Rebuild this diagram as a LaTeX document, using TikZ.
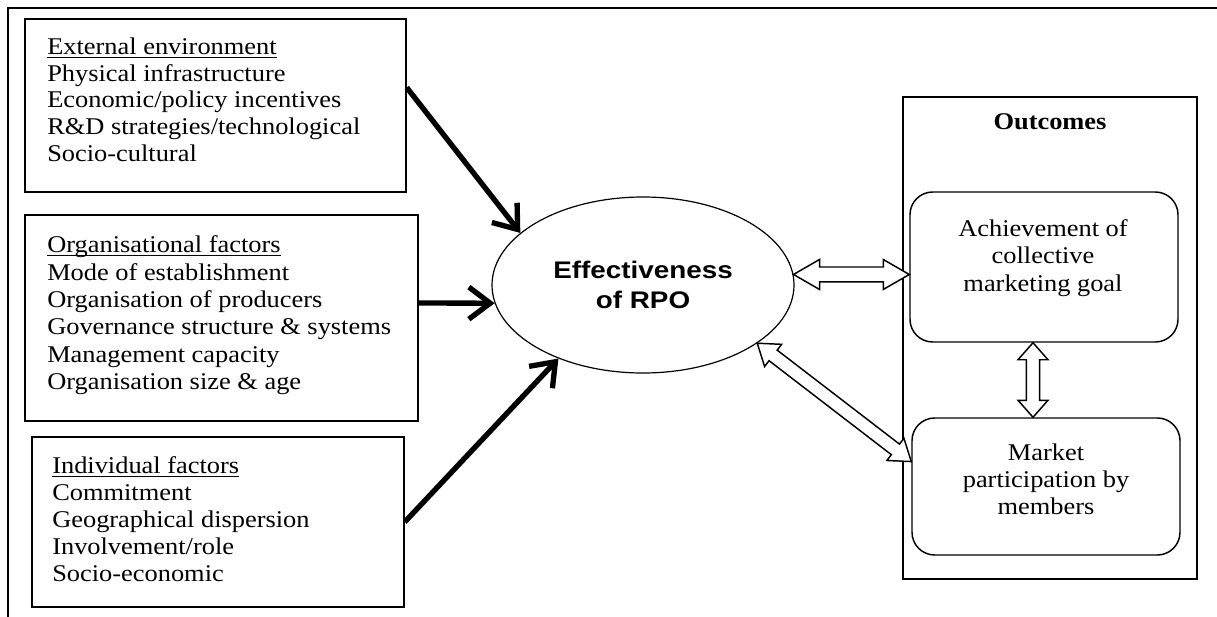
\documentclass[tikz,border=0pt]{standalone}
\usepackage{fontspec}
\setmainfont{Liberation Serif}[FakeStretch=1.1]
\newfontfamily\sansb{Liberation Sans}[FakeStretch=1.16]
\usetikzlibrary{arrows.meta,calc,fit,shapes.geometric}
\newcommand\ulword[1]{\setbox0\hbox{#1}\rlap{\rule[-2.4pt]{\wd0}{0.9pt}}#1}
\newcommand\dblarr[5]{%
  \draw[outl] let \p1=(#1), \p2=(#2), \n1={atan2(\y2-\y1,\x2-\x1)}, \n2={veclen(\x2-\x1,\y2-\y1)} in
  [shift={(\p1)}, rotate=\n1]
  (0pt,0pt) -- (#3,#4) -- (#3,#5) -- ({\n2*1pt-#3},#5) -- ({\n2*1pt-#3},#4) -- ({\n2*1pt},0pt)
  -- ({\n2*1pt-#3},-#4) -- ({\n2*1pt-#3},-#5) -- (#3,-#5) -- (#3,-#4) -- cycle;}
\tikzset{
  frameline/.style={line width=1.1pt},
  box/.style={draw, line width=1.1pt, inner sep=0pt},
  rbox/.style={draw, line width=1.1pt, rounded corners=17pt, inner sep=0pt},
  txt/.style={inner sep=0pt, align=left, anchor=north west},
  thk/.style={line width=4pt, -{Straight Barb[length=16pt,width=24pt]}},
  outl/.style={line width=1.1pt, line join=miter, fill=white},
}
\begin{document}
\begin{tikzpicture}[x=0.75pt,y=-0.75pt]
\useasboundingbox (0,0) rectangle (1217,617);
\draw[frameline] (8,617) -- (8,8) -- (1217,8);

% left boxes
\node[box, fit={(25,19) (406,192)}] (ext) {};
\node[box, fit={(25,215) (418,421)}] (org) {};
\node[box, fit={(32,437) (404,607)}] (ind) {};

\node[txt, font=\fontsize{18pt}{20pt}\selectfont] (extT) at (47,37.6)
 {\ulword{External environment}\\Physical infrastructure\\Economic/policy incentives\\R\&D strategies/technological\\Socio-cultural};
\node[txt, font=\fontsize{18pt}{20.5pt}\selectfont] (orgT) at (47,235.6)
 {\ulword{Organisational factors}\\Mode of establishment\\Organisation of producers\\Governance structure \& systems\\Management capacity\\Organisation size \& age};
\node[txt, font=\fontsize{18pt}{20.25pt}\selectfont] (indT) at (52,456.6)
 {\ulword{Individual factors}\\Commitment\\Geographical dispersion\\Involvement/role\\Socio-economic};

% ellipse
\node[ellipse, draw, line width=0.9pt, minimum width=226.5pt, minimum height=132pt, inner sep=0pt,
      align=center, font=\sansb\bfseries\fontsize{18pt}{23pt}\selectfont] (ell) at (643,285)
 {Effectiveness\\of RPO};

% outcomes
\node[box, fit={(903,97) (1197,579)}] (out) {};
\node[inner sep=0pt, anchor=base, font=\bfseries\fontsize{18pt}{21pt}\selectfont] (outT) at (1050,129) {Outcomes};
\node[rbox, fit={(910,192) (1178,342)}] (ach) {};
\node[rbox, fit={(912,418) (1180,555)}] (mkt) {};
\node[inner sep=0pt, align=center, font=\fontsize{18pt}{20.8pt}\selectfont] (achT) at (1043,258)
 {Achievement of\\collective\\marketing goal};
\node[inner sep=0pt, align=center, font=\fontsize{18pt}{20.3pt}\selectfont] (mktT) at (1046,479)
 {Market\\participation by\\members};

% thick arrows
\draw[thk] ($(ext.east)+(0,-18)$) -- (ell.157);
\draw[thk] ($(org.east)+(0,-15)$) -- (ell.187);
\draw[thk] (ind.east) -- (ell.221);

% double outline arrows
\coordinate (h1) at (ell.4.6);
\coordinate (h2) at (h1 -| ach.west);
\dblarr{h1}{h2}{19.5pt}{11.25pt}{5.6pt}
\coordinate (v1) at ($(ach.south)+(-11,0)$);
\coordinate (v2) at (v1 |- mkt.north);
\dblarr{v1}{v2}{12.75pt}{11.25pt}{5pt}
\coordinate (d1) at (ell.-27.6);
\coordinate (d2) at ($(mkt.north west)!0.32!(mkt.south west)$);
\dblarr{d1}{d2}{15pt}{10.5pt}{5pt}
\end{tikzpicture}
\end{document}
